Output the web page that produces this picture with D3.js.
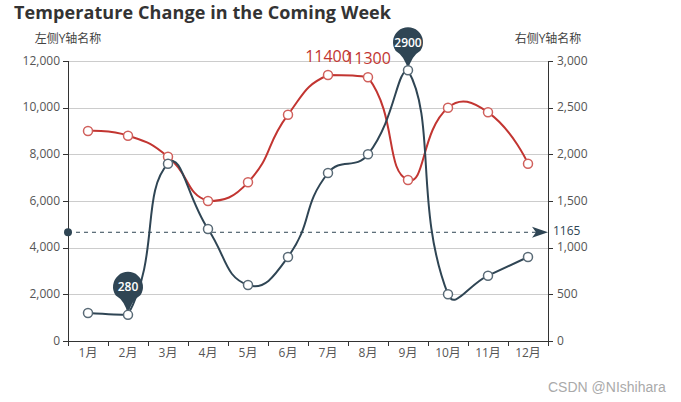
<!DOCTYPE html>
<html>
<head>
<meta charset="utf-8">
<script src="https://cdn.jsdelivr.net/npm/d3@7"></script>
<style>
	html, body { margin: 0; padding: 0; background: #fff; }
	svg { display: block; }
	text { font-family: "Open Sans", "Noto Sans CJK SC", sans-serif; }
	.axis text { font-size: 12px; fill: #555; font-family: "Open Sans", "Noto Sans CJK SC", sans-serif; }
	.axis path, .axis line { stroke: #333; shape-rendering: crispEdges; }
</style>
</head>
<body>
<div id="chart"></div>
<script>
(function() {
	"use strict";

	var months = ['1月', '2月', '3月', '4月', '5月', '6月', '7月', '8月', '9月', '10月', '11月', '12月'];
	var leftValues = [9000, 8800, 7900, 6000, 6800, 9700, 11400, 11300, 6900, 10000, 9800, 7600];
	var rightValues = [300, 280, 1900, 1200, 600, 900, 1800, 2000, 2900, 500, 700, 900];
	var leftTicks = [0, 2000, 4000, 6000, 8000, 10000, 12000];
	var rightTicks = [0, 500, 1000, 1500, 2000, 2500, 3000];
	var redLabels = [6, 7];
	var pinLabels = [1, 8];
	var averageValue = 1165;

	var red = '#c23531';
	var blue = '#2f4554';

	var width = 681;
	var height = 402;
	var left = 68;
	var right = 548;
	var top = 61;
	var bottom = 341;

	var svg = d3.select('#chart').append('svg')
		.attr('width', width)
		.attr('height', height);

	var x = d3.scaleBand().domain(months).range([left, right]);
	var xEdges = d3.scaleLinear().domain([0, months.length]).range([left, right]);
	var yLeft = d3.scaleLinear().domain([0, 12000]).range([bottom, top]);
	var yRight = d3.scaleLinear().domain([0, 3000]).range([bottom, top]);

	function px(i) {
		return x(months[i]) + x.bandwidth() / 2;
	}

	// smoothing as echarts does it: control points kept inside the bbox of the series
	function smoothCurve(context) {
		var pts;
		return {
			areaStart: function() {},
			areaEnd: function() {},
			lineStart: function() { pts = []; },
			point: function(a, b) { pts.push([+a, +b]); },
			lineEnd: function() {
				var smooth = 0.5;
				var ys = pts.map(function(p) { return p[1]; });
				var yMin = d3.min(ys);
				var yMax = d3.max(ys);
				var cps = pts.map(function(p, i) {
					if (i === 0 || i === pts.length - 1) return { before: p, after: p };
					var prev = pts[i - 1];
					var next = pts[i + 1];
					var lenPrev = Math.hypot(p[0] - prev[0], p[1] - prev[1]);
					var lenNext = Math.hypot(next[0] - p[0], next[1] - p[1]);
					var sum = lenPrev + lenNext;
					var vx = (next[0] - prev[0]) * smooth;
					var vy = (next[1] - prev[1]) * smooth;
					return {
						before: [p[0] - vx * lenPrev / sum, Math.min(yMax, Math.max(yMin, p[1] - vy * lenPrev / sum))],
						after: [p[0] + vx * lenNext / sum, Math.min(yMax, Math.max(yMin, p[1] + vy * lenNext / sum))]
					};
				});
				context.moveTo(pts[0][0], pts[0][1]);
				for (var i = 1; i < pts.length; i++) {
					context.bezierCurveTo(cps[i - 1].after[0], cps[i - 1].after[1], cps[i].before[0], cps[i].before[1], pts[i][0], pts[i][1]);
				}
			}
		};
	}

	// grid
	svg.append('g').selectAll('line')
		.data(leftTicks.slice(1))
		.enter()
		.append('line')
		.attr('x1', left)
		.attr('x2', right)
		.attr('y1', function(d) { return Math.round(yLeft(d)) + 0.5; })
		.attr('y2', function(d) { return Math.round(yLeft(d)) + 0.5; })
		.style('stroke', '#ccc');

	// axes
	var leftAxis = svg.append('g').attr('class', 'axis')
		.attr('transform', 'translate(' + left + ',0)')
		.call(d3.axisLeft(yLeft).tickValues(leftTicks).tickFormat(d3.format(',')).tickSize(5).tickPadding(3));

	var rightAxis = svg.append('g').attr('class', 'axis')
		.attr('transform', 'translate(' + right + ',0)')
		.call(d3.axisRight(yRight).tickValues(rightTicks).tickFormat(d3.format(',')).tickSize(5).tickPadding(4));

	leftAxis.selectAll('text').attr('dy', '0.25em');
	rightAxis.selectAll('text').attr('dy', '0.25em');

	svg.append('g').attr('class', 'axis')
		.attr('transform', 'translate(0,' + bottom + ')')
		.call(d3.axisBottom(xEdges).tickValues(d3.range(months.length + 1)).tickFormat('').tickSize(5));

	svg.append('g').attr('class', 'axis')
		.attr('transform', 'translate(0,' + bottom + ')')
		.call(d3.axisBottom(x).tickSize(0).tickPadding(7))
		.select('.domain').remove();

	// lines
	var lineLeft = d3.line()
		.x(function(d, i) { return px(i); })
		.y(function(d) { return yLeft(d); })
		.curve(smoothCurve);

	var lineRight = d3.line()
		.x(function(d, i) { return px(i); })
		.y(function(d) { return yRight(d); })
		.curve(smoothCurve);

	svg.append('path')
		.attr('d', lineLeft(leftValues))
		.style('fill', 'none')
		.style('stroke', red)
		.style('stroke-width', 2);

	svg.append('path')
		.attr('d', lineRight(rightValues))
		.style('fill', 'none')
		.style('stroke', blue)
		.style('stroke-width', 2);

	// average line
	var avgY = yRight(averageValue);

	svg.append('line')
		.attr('x1', left)
		.attr('x2', right - 10)
		.attr('y1', avgY)
		.attr('y2', avgY)
		.style('stroke', blue)
		.style('stroke-dasharray', '4,4');

	svg.append('circle')
		.attr('cx', left)
		.attr('cy', avgY)
		.attr('r', 4)
		.style('fill', blue);

	var arrow = d3.path();
	arrow.moveTo(right, avgY);
	arrow.lineTo(right - 16, avgY - 5.5);
	arrow.lineTo(right - 12, avgY);
	arrow.lineTo(right - 16, avgY + 5.5);
	arrow.closePath();

	svg.append('path')
		.attr('d', arrow.toString())
		.style('fill', blue);

	svg.append('text')
		.attr('x', right + 5)
		.attr('y', avgY + 3)
		.style('font-size', '12px')
		.style('fill', blue)
		.text(averageValue);

	// pins
	function pinPath(cx, tipY) {
		var r = 15;
		var cy = tipY - 28;
		var p = d3.path();
		p.moveTo(cx, tipY);
		p.quadraticCurveTo(cx - 3, cy + 14, cx - 12.5, cy + 8.5);
		p.arc(cx, cy, r, Math.PI - 0.6, 0.6, false);
		p.quadraticCurveTo(cx + 3, cy + 14, cx, tipY);
		p.closePath();
		return p.toString();
	}

	var pins = svg.append('g').selectAll('g')
		.data(pinLabels)
		.enter()
		.append('g');

	pins.append('path')
		.attr('d', function(i) { return pinPath(px(i), yRight(rightValues[i])); })
		.style('fill', blue);

	pins.append('text')
		.attr('x', function(i) { return px(i); })
		.attr('y', function(i) { return yRight(rightValues[i]) - 23.5; })
		.attr('text-anchor', 'middle')
		.style('font-size', '12px')
		.style('font-weight', 600)
		.style('fill', '#fff')
		.text(function(i) { return rightValues[i]; });

	// points
	svg.append('g').selectAll('circle')
		.data(leftValues)
		.enter()
		.append('circle')
		.attr('cx', function(d, i) { return px(i); })
		.attr('cy', function(d) { return yLeft(d); })
		.attr('r', 4.5)
		.style('fill', '#fff')
		.style('stroke', '#d0605c')
		.style('stroke-width', 1.5);

	svg.append('g').selectAll('circle')
		.data(rightValues)
		.enter()
		.append('circle')
		.attr('cx', function(d, i) { return px(i); })
		.attr('cy', function(d) { return yRight(d); })
		.attr('r', 4.5)
		.style('fill', '#fff')
		.style('stroke', '#596a76')
		.style('stroke-width', 1.5);

	// labels on the red series
	svg.append('g').selectAll('text')
		.data(redLabels)
		.enter()
		.append('text')
		.attr('x', function(i) { return px(i); })
		.attr('y', function(i) { return yLeft(leftValues[i]) - 13; })
		.attr('text-anchor', 'middle')
		.style('font-size', '16px')
		.style('fill', red)
		.text(function(i) { return leftValues[i]; });

	// title and axis names
	svg.append('text')
		.attr('x', 14)
		.attr('y', 19)
		.attr('textLength', 377)
		.style('font-size', '18px')
		.style('font-weight', 'bold')
		.style('fill', '#333')
		.text('Temperature Change in the Coming Week');

	svg.append('text')
		.attr('x', left)
		.attr('y', 43)
		.attr('text-anchor', 'middle')
		.style('font-size', '12px')
		.style('fill', '#444')
		.text('左侧Y轴名称');

	svg.append('text')
		.attr('x', right)
		.attr('y', 43)
		.attr('text-anchor', 'middle')
		.style('font-size', '12px')
		.style('fill', '#444')
		.text('右侧Y轴名称');

	svg.append('text')
		.attr('x', 548)
		.attr('y', 392)
		.style('font-family', '"Liberation Sans", sans-serif')
		.style('font-size', '14px')
		.style('fill', '#aaa')
		.text('CSDN @NIshihara');

})();
</script>
</body>
</html>
